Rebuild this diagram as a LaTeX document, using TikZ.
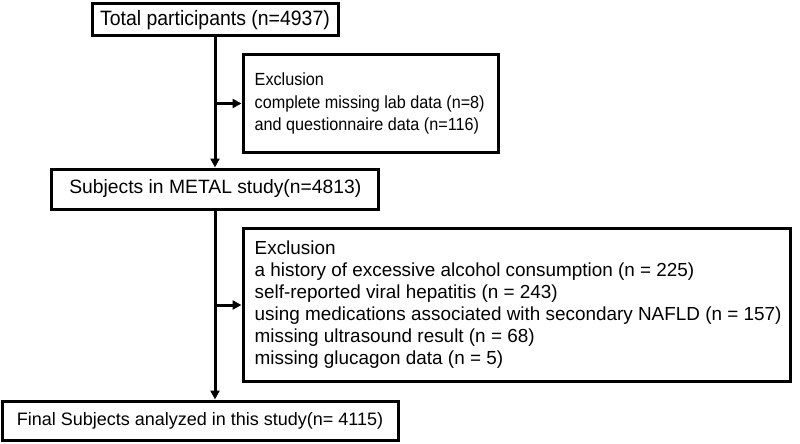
\documentclass[tikz,border=0pt]{standalone}
\usepackage{fontspec}
\setmainfont{Liberation Sans}
\newfontfamily\condA[FakeStretch=0.935]{Liberation Sans}
\newfontfamily\condB[FakeStretch=0.92]{Liberation Sans}
\usetikzlibrary{arrows.meta}
\begin{document}
\begin{tikzpicture}[x=1pt,y=-1pt,
  box/.style={draw=black, line width=3pt, rectangle, inner sep=0pt},
  txt/.style={inner sep=0pt, anchor=west, align=left},
  conn/.style={line width=3pt, -{Triangle[length=9pt,width=9pt]}}]
\useasboundingbox (0,0) rectangle (800,444);
\node[box, minimum width=246pt, minimum height=32pt, font=\condA\fontsize{20.8}{24}\selectfont] (b1) at (215,20) {Total participants (n=4937)};
\node[box, minimum width=255pt, minimum height=97pt] (b2) at (370.5,103.5) {};
\node[txt, font=\condB\fontsize{17.6}{22.5}\selectfont] (t2) at ([xshift=13pt]b2.west) {Exclusion\\complete missing lab data (n=8)\\and questionnaire data (n=116)};
\node[box, minimum width=327pt, minimum height=40pt, font=\fontsize{19.3}{24}\selectfont] (b3) at (215.3,189) {Subjects in METAL study(n=4813)};
\node[box, minimum width=547pt, minimum height=153pt] (b4) at (516.5,305) {};
\node[txt, font=\fontsize{18.9}{22}\selectfont] (t4) at ([xshift=13pt]b4.west) {Exclusion\\a history of excessive alcohol consumption (n = 225)\\self-reported viral hepatitis (n = 243)\\using medications associated with secondary NAFLD (n = 157)\\missing ultrasound result (n = 68)\\missing glucagon data (n = 5)};
\node[box, minimum width=396pt, minimum height=39pt, font=\fontsize{18}{22}\selectfont] (b5) at (200,420.5) {Final Subjects analyzed in this study(n= 4115)};
\coordinate (j1) at (b1.south |- b2.west);
\coordinate (j2) at (b1.south |- b4.west);
\draw[conn] (b1.south) -- (b1.south |- b3.north);
\draw[conn] (j1) -- (b2.west);
\draw[conn] (b1.south |- b3.south) -- (b1.south |- b5.north);
\draw[conn] (j2) -- (b4.west);
\end{tikzpicture}
\end{document}
